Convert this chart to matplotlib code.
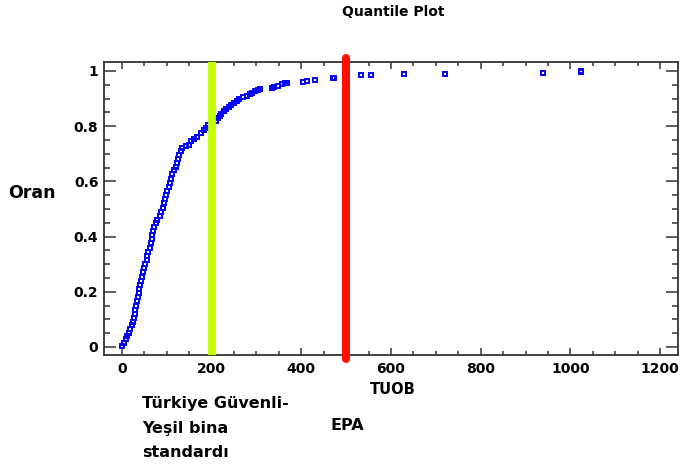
import matplotlib.pyplot as plt
from matplotlib.ticker import MultipleLocator

# TUOB values and cumulative fraction
tuob = [0, 4, 8, 11, 15, 19, 22, 25, 27, 29, 30, 31, 33, 35, 37, 38, 40, 42,
        45, 47, 49, 52, 55, 57, 59, 62, 64, 66, 67, 69, 72, 75, 79, 84, 88,
        91, 94, 96, 98, 101, 104, 107, 110, 112, 116, 120, 123, 126, 128,
        131, 135, 142, 150, 155, 160, 168, 176, 182, 188, 193,
        210, 214, 218, 222, 228, 233, 238, 244, 250, 256, 262, 270, 278,
        285, 290, 296, 303, 308, 334, 340, 349, 356, 364, 369, 404, 412,
        430, 470, 474, 534, 556, 630, 720, 940, 1023, 1023]
oran = [0.005, 0.015, 0.028, 0.04, 0.052, 0.065, 0.078, 0.092, 0.105, 0.12,
        0.135, 0.15, 0.165, 0.18, 0.195, 0.21, 0.225, 0.24, 0.255, 0.27,
        0.285, 0.30, 0.315, 0.33, 0.345, 0.36, 0.375, 0.39, 0.405, 0.42,
        0.435, 0.45, 0.46, 0.475, 0.49, 0.505, 0.52, 0.535, 0.55, 0.565,
        0.58, 0.595, 0.61, 0.625, 0.64, 0.652, 0.665, 0.68, 0.695, 0.71,
        0.72, 0.728, 0.732, 0.745, 0.755, 0.762, 0.775, 0.785, 0.795, 0.805,
        0.82, 0.83, 0.838, 0.846, 0.855, 0.862, 0.87, 0.878, 0.885, 0.893,
        0.90, 0.905, 0.91, 0.916, 0.921, 0.926, 0.932, 0.935, 0.94, 0.943,
        0.947, 0.952, 0.956, 0.958, 0.961, 0.962, 0.968, 0.973, 0.976,
        0.985, 0.985, 0.989, 0.989, 0.993, 0.995, 1.0]

turkiye_std = 200   # Türkiye Güvenli-Yeşil bina standardı
epa_std = 500       # EPA

x_ticks = [0, 200, 400, 600, 800, 1000, 1200]
x_labels = ['0', '200', '400', '600', '800', '1000', '1200']
y_ticks = [0, 0.2, 0.4, 0.6, 0.8, 1.0]
y_labels = ['0', '0.2', '0.4', '0.6', '0.8', '1']

plt.rcParams['font.family'] = ['DejaVu Sans']
plt.rcParams['font.weight'] = 'bold'

W, H = 681, 468
fig = plt.figure(figsize=(W / 100, H / 100), dpi=100)
ax = fig.add_axes([104 / W, 1 - 355 / H, (678 - 104) / W, (355 - 62) / H])

ax.plot(tuob, oran, linestyle='none', marker='s', ms=3.5, mew=1.4,
        mfc='none', mec='#0000ff', zorder=3)

# standard limits
ax.axvline(turkiye_std, color='#c4ff00', lw=5.6, zorder=4)
ax.axvline(epa_std, color='#ff0d00', lw=5.8, ymin=-0.012, ymax=1.012,
           clip_on=False, solid_capstyle='round', zorder=4)

ax.set_xlim(-40, 1240)
ax.set_ylim(-0.029, 1.0326)
ax.set_xticks(x_ticks)
ax.set_xticklabels(x_labels)
ax.set_yticks(y_ticks)
ax.set_yticklabels(y_labels)
ax.xaxis.set_minor_locator(MultipleLocator(50))
ax.yaxis.set_minor_locator(MultipleLocator(0.05))

ax.tick_params(axis='both', which='both', direction='in', top=True,
               right=True, color='#333333', width=1.1, labelsize=10)
ax.tick_params(axis='x', which='major', length=5, pad=5)
ax.tick_params(axis='x', which='minor', length=3)
ax.tick_params(axis='y', which='major', length=8.5, pad=4)
ax.tick_params(axis='y', which='minor', length=4.3)
for lab in ax.get_xticklabels() + ax.get_yticklabels():
    lab.set_fontweight('bold')
for sp in ax.spines.values():
    sp.set_color('#333333')
    sp.set_linewidth(1.3)

fig.text(393 / W, 1 - 12 / H, 'Quantile Plot', ha='center', va='center',
         fontsize=10, fontweight='bold')
fig.text(393 / W, 1 - 389 / H, 'TUOB', ha='center', va='center',
         fontsize=10.5, fontweight='bold')
fig.text(8 / W, 1 - 193 / H, 'Oran', ha='left', va='center',
         fontsize=12.5, fontweight='bold')
fig.text(142 / W, 1 - 396 / H, 'Türkiye Güvenli-\nYeşil bina\nstandardı',
         ha='left', va='top', fontsize=11.5, fontweight='bold',
         linespacing=1.8)
fig.text(331 / W, 1 - 425 / H, 'EPA', ha='left', va='center',
         fontsize=11.5, fontweight='bold')

fig.savefig('out.png', dpi=100)
